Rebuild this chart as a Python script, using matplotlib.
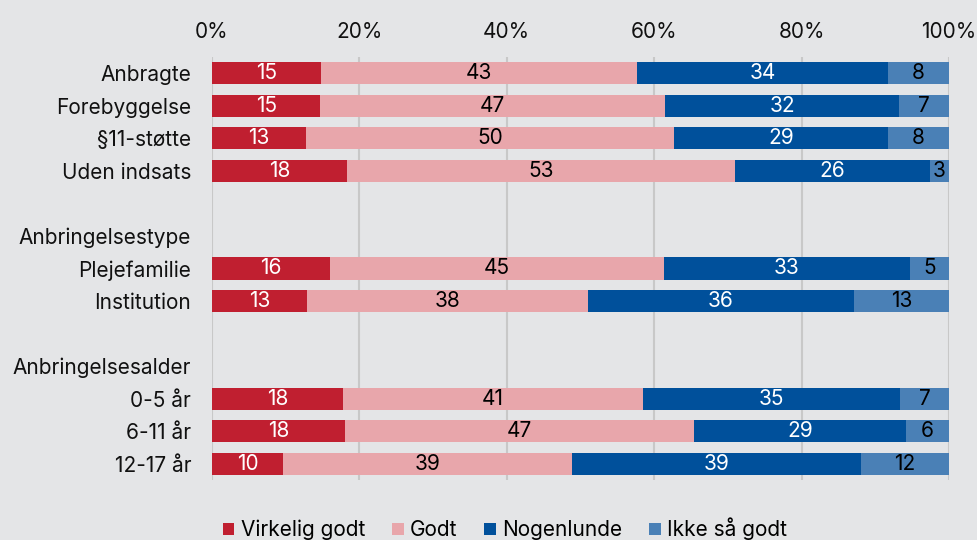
import numpy as np
import matplotlib.pyplot as plt

plt.rcParams['font.family'] = ['Inter', 'DejaVu Sans']

# rows top to bottom; None = header/blank row without a bar
labels = ["Anbragte", "Forebyggelse", "§11-støtte", "Uden indsats", "",
          "Anbringelsestype", "Plejefamilie", "Institution", "",
          "Anbringelsesalder", "0-5 år", "6-11 år", "12-17 år"]
virkelig = [14.8, 14.7, 12.8, 18.3, None, None, 16.0, 12.9, None, None, 17.8, 18.0, 9.6]
godt = [42.9, 46.8, 49.9, 52.7, None, None, 45.3, 38.1, None, None, 40.7, 47.4, 39.2]
nogenlunde = [34.0, 31.7, 29.0, 26.4, None, None, 33.4, 36.1, None, None, 34.9, 28.8, 39.3]
ikke = [8.3, 6.8, 8.3, 2.6, None, None, 5.3, 12.9, None, None, 6.6, 5.8, 11.9]

series = ["Virkelig godt", "Godt", "Nogenlunde", "Ikke så godt"]
colors = ["#c01f30", "#e8a6ab", "#00509b", "#4a80b6"]
text_colors = ["white", "black", "white", "black"]
bg = "#e4e5e7"
fs = 15

fig = plt.figure(figsize=(9.78, 5.4), dpi=100, facecolor=bg)
ax = fig.add_axes([212 / 978, 1 - 480 / 540, 737 / 978, 423 / 540])
ax.set_facecolor(bg)

y = np.arange(len(labels))
left = np.zeros(len(labels))
for name, vals, c, tc in zip(series, [virkelig, godt, nogenlunde, ikke], colors, text_colors):
    idx = [i for i, v in enumerate(vals) if v is not None]
    v = np.array([vals[i] for i in idx])
    bars = ax.barh(y[idx], v, left=left[idx], height=0.68, color=c, label=name, zorder=3)
    ax.bar_label(bars, labels=[f"{round(x):d}" for x in v], label_type="center",
                 color=tc, fontsize=fs)
    left[idx] += v

ax.set_xlim(0, 100)
ax.set_ylim(12.5, -0.5)
ax.set_xticks(np.arange(0, 101, 20))
ax.set_xticklabels([f"{t}%" for t in range(0, 101, 20)])
ax.xaxis.tick_top()
ax.set_yticks(y)
ax.set_yticklabels(labels)
ax.tick_params(axis="both", length=0, labelsize=fs, colors="#111111")
ax.tick_params(axis="x", pad=11)
ax.tick_params(axis="y", pad=15)
ax.grid(axis="x", color="#c8c8c8", linewidth=1.5, zorder=0)
for s in ax.spines.values():
    s.set_visible(False)

fig.legend(loc="center", bbox_to_anchor=(505 / 978, 1 - 529 / 540), ncol=4,
           frameon=False, fontsize=fs, handlelength=0.55, handleheight=0.55,
           handletextpad=0.3, columnspacing=1.3, borderaxespad=0)

fig.savefig("out.png", dpi=100, facecolor=bg)
